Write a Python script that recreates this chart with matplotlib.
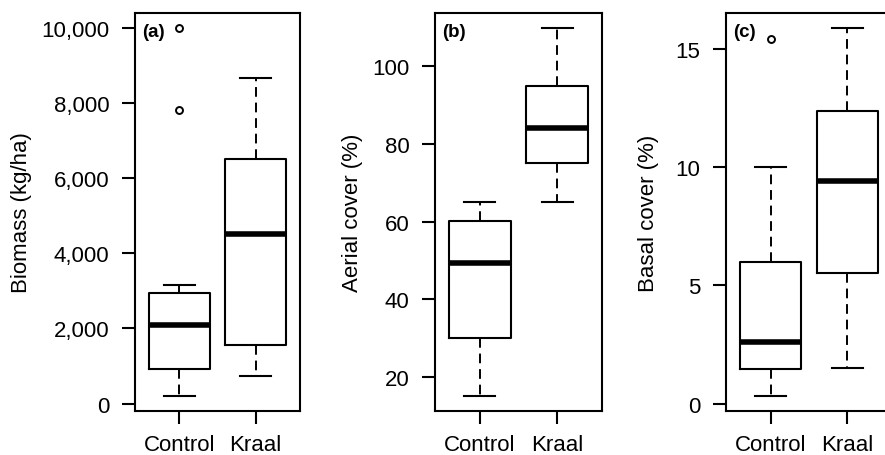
import matplotlib
matplotlib.use('Agg')
import matplotlib.pyplot as plt
from matplotlib.ticker import FuncFormatter

plt.rcParams['font.family'] = ['Liberation Sans', 'DejaVu Sans']

# Данные (статистики боксплотов)
groups = ['Control', 'Kraal']

biomass_whislo = [195, 728]
biomass_q1 = [933, 1555]
biomass_med = [2080, 4525]
biomass_q3 = [2950, 6498]
biomass_whishi = [3155, 8658]
biomass_fliers = [[7800, 10000], []]

aerial_whislo = [15.1, 65.2]
aerial_q1 = [30.2, 75.1]
aerial_med = [49.5, 84.1]
aerial_q3 = [60.1, 94.9]
aerial_whishi = [65.2, 109.9]
aerial_fliers = [[], []]

basal_whislo = [0.31, 1.51]
basal_q1 = [1.48, 5.5]
basal_med = [2.61, 9.4]
basal_q3 = [5.99, 12.36]
basal_whishi = [9.99, 15.88]
basal_fliers = [[15.39], []]

panels = [
    ('(a)', 'Biomass (kg/ha)', biomass_whislo, biomass_q1, biomass_med, biomass_q3,
     biomass_whishi, biomass_fliers, [0, 2000, 4000, 6000, 8000, 10000]),
    ('(b)', 'Aerial cover (%)', aerial_whislo, aerial_q1, aerial_med, aerial_q3,
     aerial_whishi, aerial_fliers, [20, 40, 60, 80, 100]),
    ('(c)', 'Basal cover (%)', basal_whislo, basal_q1, basal_med, basal_q3,
     basal_whishi, basal_fliers, [0, 5, 10, 15]),
]

# Положение осей в пикселях (лево, право), фигура 885x456
W, H = 885, 456
ax_x = [(135, 300), (435, 602), (726, 892)]
ax_top, ax_bottom = 14, 412
label_x = [-0.624, -0.431, -0.404]

fig = plt.figure(figsize=(W / 100, H / 100), dpi=100)

for k, (tag, ylab, lo, q1, med, q3, hi, fl, ticks) in enumerate(panels):
    x0, x1 = ax_x[k]
    ax = fig.add_axes([x0 / W, (H - ax_bottom) / H, (x1 - x0) / W, (ax_bottom - ax_top) / H])
    stats = []
    for i in range(len(groups)):
        stats.append(dict(whislo=lo[i], q1=q1[i], med=med[i], q3=q3[i],
                          whishi=hi[i], fliers=fl[i], label=groups[i]))
    ax.bxp(stats, positions=[1, 2], widths=0.8, manage_ticks=False,
           boxprops=dict(color='black', linewidth=1.5),
           medianprops=dict(color='black', linewidth=4, solid_capstyle='butt'),
           whiskerprops=dict(color='black', linewidth=1.4, linestyle=(0, (5, 3))),
           capprops=dict(color='black', linewidth=1.5),
           capwidths=0.4,
           flierprops=dict(marker='o', markerfacecolor='white', markeredgecolor='black',
                           markersize=5, markeredgewidth=1.4))

    # Пределы осей как в R (+4%)
    vmin = min(lo + [v for f in fl for v in f])
    vmax = max(hi + [v for f in fl for v in f])
    r = vmax - vmin
    ax.set_ylim(vmin - 0.04 * r, vmax + 0.04 * r)
    ax.set_xlim(0.42, 2.58)

    ax.set_xticks([1, 2])
    ax.set_xticklabels(groups, fontsize=16)
    ax.set_yticks(ticks)
    if k == 0:
        ax.yaxis.set_major_formatter(FuncFormatter(lambda v, p: f'{int(v):,}'))
    ax.tick_params(axis='both', direction='out', length=9.4, width=1.5, labelsize=16)
    ax.tick_params(axis='y', pad=9)
    ax.tick_params(axis='x', pad=7)
    for s in ax.spines.values():
        s.set_linewidth(1.5)

    ax.set_ylabel(ylab, fontsize=16)
    ax.yaxis.set_label_coords(label_x[k], 0.5)

    ax.annotate(tag, xy=(0, 1), xycoords='axes fraction', xytext=(5, -13.5),
                textcoords='offset points', ha='left', va='center',
                fontsize=13.5, fontweight='bold')

fig.savefig('out.png', dpi=100)
